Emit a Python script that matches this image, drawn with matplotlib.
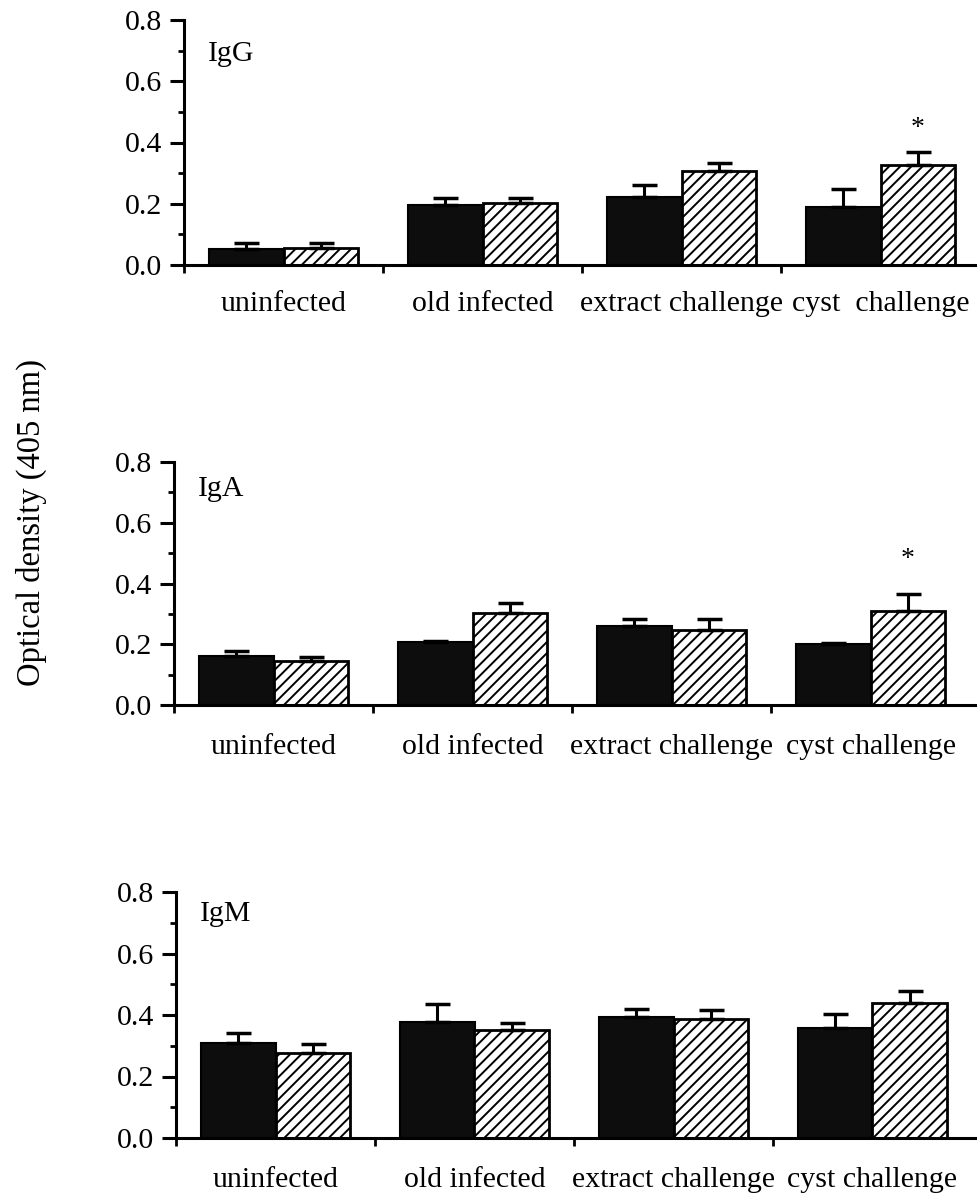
import numpy as np
import matplotlib
matplotlib.use('Agg')
import matplotlib.pyplot as plt

plt.rcParams['font.family'] = ['Liberation Serif', 'DejaVu Serif']
plt.rcParams['hatch.linewidth'] = 1.4

groups = ['uninfected', 'old infected', 'extract challenge', 'cyst challenge']
groups_igg = ['uninfected', 'old infected', 'extract challenge', 'cyst  challenge']

# IgG
igg_solid = [0.053, 0.196, 0.222, 0.190]
igg_solid_err = [0.019, 0.023, 0.040, 0.058]
igg_hatch = [0.055, 0.203, 0.308, 0.326]
igg_hatch_err = [0.017, 0.016, 0.024, 0.043]
# IgA
iga_solid = [0.161, 0.206, 0.259, 0.202]
iga_solid_err = [0.017, 0.004, 0.024, 0.003]
iga_hatch = [0.144, 0.302, 0.247, 0.311]
iga_hatch_err = [0.015, 0.034, 0.036, 0.053]
# IgM
igm_solid = [0.308, 0.377, 0.395, 0.359]
igm_solid_err = [0.034, 0.058, 0.023, 0.043]
igm_hatch = [0.275, 0.350, 0.386, 0.438]
igm_hatch_err = [0.032, 0.024, 0.031, 0.040]

yticks = [0.0, 0.2, 0.4, 0.6, 0.8]
ytick_labels = ['0.0', '0.2', '0.4', '0.6', '0.8']

# name, labels, solid, err, hatched, err, star group, star height, label y
panels = [
    ('IgG', groups_igg, igg_solid, igg_solid_err, igg_hatch, igg_hatch_err, 3, 0.445, 0.69),
    ('IgA', groups, iga_solid, iga_solid_err, iga_hatch, iga_hatch_err, 3, 0.478, 0.71),
    ('IgM', groups, igm_solid, igm_solid_err, igm_hatch, igm_hatch_err, None, None, 0.73),
]
# axes boxes in pixels: left, y of 0.0, height, label pad
boxes = [(184, 265, 245, 19), (174, 705, 243, 21), (176, 1138, 246, 21)]

W, H = 977, 1197
fig = plt.figure(figsize=(W / 100, H / 100), dpi=100)

w = 0.375
fs = 21.5
for (name, labels, s, se, h, he, star, star_y, lab_y), (lx, y0, ht, pad) in zip(panels, boxes):
    ax = fig.add_axes([lx / W, 1 - y0 / H, (W - lx) / W, ht / H])
    x = np.arange(len(s)) + 0.5
    ax.bar(x - w / 2, s, w, color='#0d0d0d', edgecolor='black', linewidth=1.5, zorder=2)
    ax.bar(x + w / 2, h, w, color='white', edgecolor='black', hatch='///', linewidth=2, zorder=2)
    ax.errorbar(x - w / 2, s, yerr=[np.zeros(len(s)), se], fmt='none', ecolor='black',
                elinewidth=2.2, capsize=9, capthick=2.5, zorder=3)
    ax.errorbar(x + w / 2, h, yerr=[np.zeros(len(h)), he], fmt='none', ecolor='black',
                elinewidth=2.2, capsize=9, capthick=2.5, zorder=3)
    if star is not None:
        ax.text(x[star] + w / 2, star_y, '*', ha='center', va='center', fontsize=20)
    ax.text(0.12, lab_y, name, ha='left', va='center', fontsize=fs)

    ax.set_xlim(0, (W - lx) / 199)
    ax.set_ylim(0, 0.8)
    ax.spines['top'].set_visible(False)
    ax.spines['right'].set_visible(False)
    ax.spines['left'].set_linewidth(2.2)
    ax.spines['bottom'].set_linewidth(2.2)
    ax.spines['left'].set_bounds(0, 0.8)

    ax.set_yticks(yticks)
    ax.set_yticklabels(ytick_labels, fontsize=fs)
    ax.set_yticks([0.1, 0.3, 0.5, 0.7], minor=True)
    ax.tick_params(axis='y', which='major', length=10, width=2.2, pad=6)
    ax.tick_params(axis='y', which='minor', length=4, width=2)

    # tick marks between groups, group names on minor ticks
    ax.set_xticks([0, 1, 2, 3])
    ax.set_xticklabels([])
    ax.set_xticks(x, minor=True)
    ax.set_xticklabels(labels, minor=True, fontsize=fs)
    ax.tick_params(axis='x', which='major', length=6, width=2)
    ax.tick_params(axis='x', which='minor', length=0, pad=pad)

fig.text(31 / W, 1 - 522 / H, 'Optical density (405 nm)', rotation=90, ha='center', va='center', fontsize=23.5)

plt.savefig('out.png', dpi=100)
